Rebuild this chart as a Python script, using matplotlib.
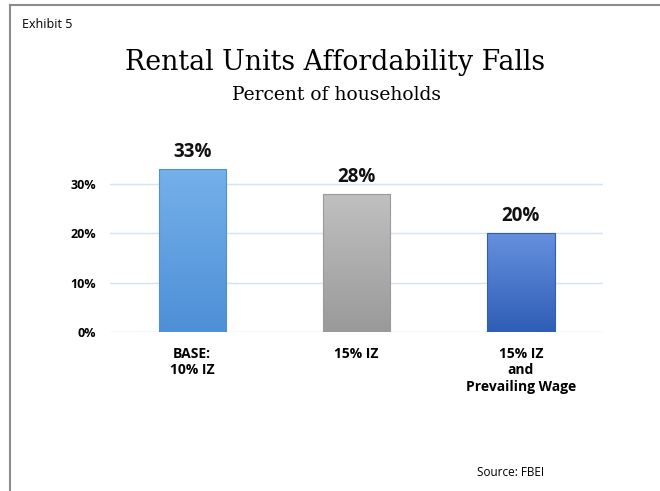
import numpy as np
import matplotlib
matplotlib.use("Agg")
import matplotlib.pyplot as plt
from matplotlib.colors import LinearSegmentedColormap

categories = ["BASE:\n10% IZ", "15% IZ", "15% IZ\nand\nPrevailing Wage"]
values = [33, 28, 20]
top_colors = ["#74b0ea", "#c0c0c0", "#6690de"]
bottom_colors = ["#4e8fd6", "#9a9a9a", "#2f5eb6"]
yticks = [0, 10, 20, 30]

fig = plt.figure(figsize=(6.6, 4.91), dpi=100)
ax = fig.add_axes([0.1667, 0.3238, 0.747, 0.3515])

x = np.arange(len(categories))
bars = ax.bar(x, values, width=0.41, color=bottom_colors, edgecolor="none", zorder=2)

# vertical gradient fill inside each bar
for b, c1, c2 in zip(bars, top_colors, bottom_colors):
    cmap = LinearSegmentedColormap.from_list("g", [c2, c1])
    grad = np.linspace(0, 1, 100).reshape(-1, 1)
    im = ax.imshow(grad, cmap=cmap, aspect="auto", origin="lower",
                   extent=[b.get_x(), b.get_x() + b.get_width(), 0, b.get_height()], zorder=2)
    im.set_clip_path(b)
    b.set_facecolor("none")
    b.set_edgecolor(c2)
    b.set_linewidth(0.8)
    b.set_zorder(3)

for xi, v in zip(x, values):
    ax.annotate(f"{v}%", (xi, v), xytext=(0, 5), textcoords="offset points",
                ha="center", va="bottom", fontsize=13.5, fontweight="bold",
                family="Open Sans", color="#111111")

ax.set_xlim(-0.5, 2.5)
ax.set_ylim(0, 35)
ax.set_yticks(yticks)
ax.set_yticklabels([f"{t}%" for t in yticks], fontsize=9, fontweight="bold", family="Open Sans")
ax.set_xticks(x)
ax.set_xticklabels(categories, fontsize=10, fontweight="bold", family="Open Sans", linespacing=1.2, va="top")
ax.tick_params(axis="both", length=0)
ax.tick_params(axis="y", pad=10)
ax.tick_params(axis="x", pad=11)
ax.yaxis.grid(True, color="#d5e3f3", linewidth=1, zorder=0)
ax.set_axisbelow(True)
for s in ax.spines.values():
    s.set_visible(False)

# frame border
fig.add_artist(plt.Line2D([10 / 660, 1], [1 - 5 / 491, 1 - 5 / 491], color="#8c8c8c", linewidth=1.5))
fig.add_artist(plt.Line2D([10 / 660, 10 / 660], [1 - 5 / 491, 0], color="#8c8c8c", linewidth=1.5))

fig.text(22 / 660, 1 - 24 / 491, "Exhibit 5", fontsize=9, family="Open Sans", va="center")
fig.text(0.508, 1 - 63 / 491, "Rental Units Affordability Falls", fontsize=19.3,
         family="DejaVu Serif", ha="center", va="center")
fig.text(0.51, 1 - 95 / 491, "Percent of households", fontsize=13.5,
         family="DejaVu Serif", ha="center", va="center")
fig.text(511 / 660, 1 - 472 / 491, "Source: FBEI", fontsize=8.5, family="Open Sans",
         ha="center", va="center")

fig.savefig("out.png", dpi=100, facecolor="white")
